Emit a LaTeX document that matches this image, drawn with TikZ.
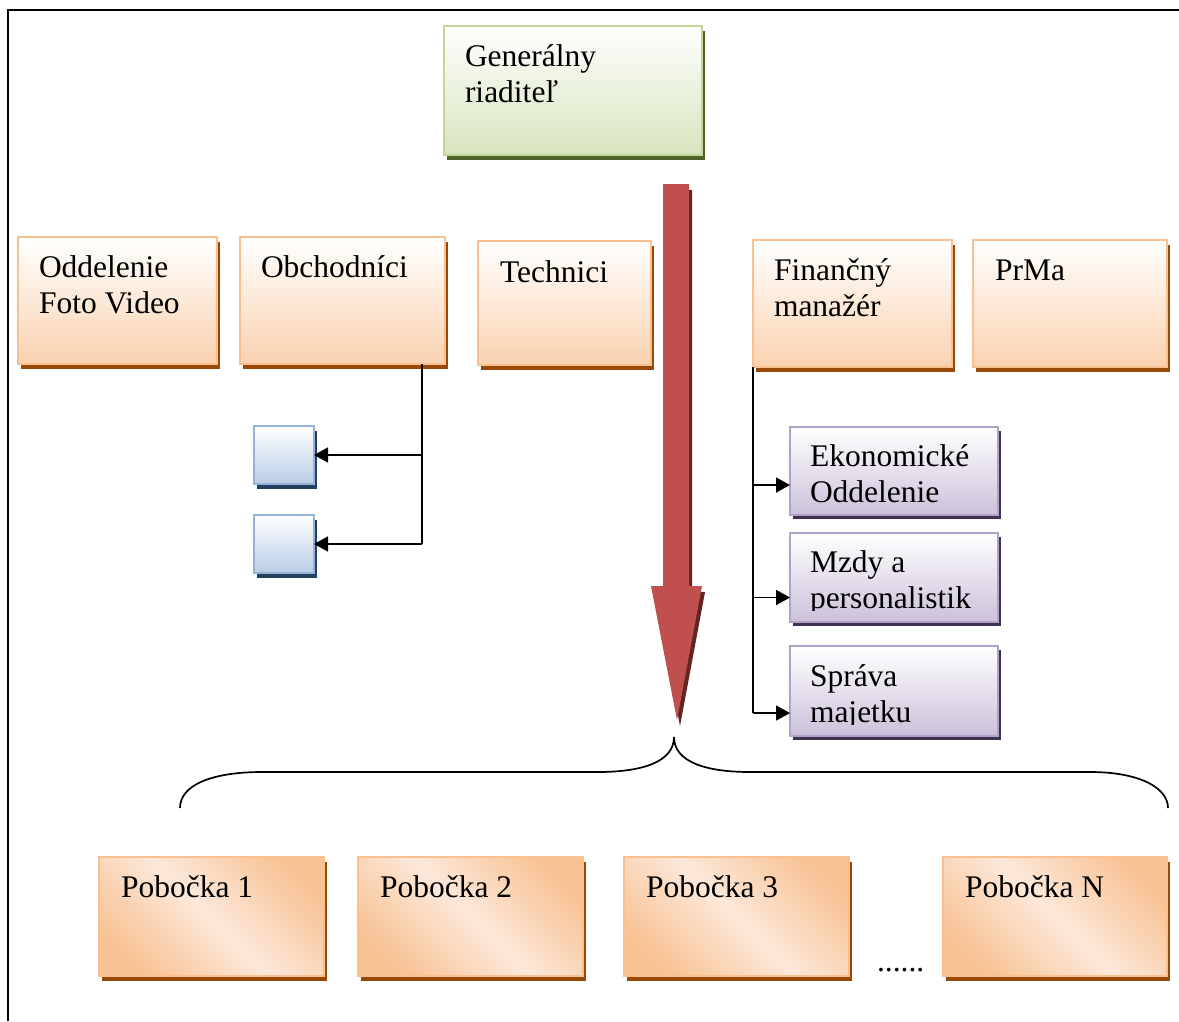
\documentclass[tikz,border=0pt]{standalone}
\usepackage{fontspec}
\setmainfont{Liberation Serif}
\usetikzlibrary{shadows,arrows.meta,calc}

% palette
\definecolor{orBorder}{HTML}{FAC090}
\definecolor{orFill}{HTML}{FAD2B0}
\definecolor{orShadow}{HTML}{984807}
\definecolor{grBorder}{HTML}{C3D69B}
\definecolor{grFill}{HTML}{D7E4BD}
\definecolor{grShadow}{HTML}{4F6228}
\definecolor{blBorder}{HTML}{95B3D7}
\definecolor{blFill}{HTML}{B9CDE5}
\definecolor{blShadow}{HTML}{244061}
\definecolor{puBorder}{HTML}{B3A2C7}
\definecolor{puFill}{HTML}{CCC1DA}
\definecolor{puShadow}{HTML}{3F3151}
\definecolor{arrowRed}{HTML}{C0504D}
\definecolor{arrowShadow}{HTML}{632523}
\definecolor{pobD}{HTML}{F8C294}
\definecolor{pobL}{HTML}{FCE8DA}

% diagonal two-tone fill of the branch boxes
\pgfdeclarehorizontalshading{pobshade}{100bp}{color(0bp)=(pobD); color(24bp)=(pobD); color(50bp)=(pobL); color(76bp)=(pobD); color(100bp)=(pobD)}

\tikzset{
  box/.style={draw, line width=2pt, outer sep=0pt, inner sep=0pt, anchor=north west},
  orbox/.style={box, draw=orBorder, top color=white, bottom color=orFill,
    drop shadow={shadow xshift=3pt, shadow yshift=-5pt, fill=orShadow, opacity=1}},
  grbox/.style={box, draw=grBorder, top color=white, bottom color=grFill,
    drop shadow={shadow xshift=3pt, shadow yshift=-5pt, fill=grShadow, opacity=1}},
  blbox/.style={box, draw=blBorder, top color=white, bottom color=blFill,
    drop shadow={shadow xshift=3pt, shadow yshift=-5pt, fill=blShadow, opacity=1}},
  pubox/.style={box, draw=puBorder, top color=white, bottom color=puFill,
    drop shadow={shadow xshift=3pt, shadow yshift=-4pt, fill=puShadow, opacity=1}},
  pobbox/.style={box, draw=orBorder, shading=pobshade, shading angle=45,
    drop shadow={shadow xshift=3pt, shadow yshift=-5pt, fill=orShadow, opacity=1}},
  lbl/.style={anchor=base west, inner sep=0pt, outer sep=0pt,
    font=\fontsize{31.5}{36.5}\selectfont},
  conn/.style={line width=1.8pt, black},
  arr/.style={conn, -{Triangle[length=14pt,width=15pt]}},
  frameline/.style={line width=2.5pt, black},
  bracket/.style={line width=1.7pt, black}
}

\begin{document}
\begin{tikzpicture}[x=1pt,y=-1pt]
\useasboundingbox (0,0) rectangle (1179,1021);
\fill[white] (0,0) rectangle (1179,1021);

% page frame
\draw[frameline] (8,1021) -- (8,10) -- (1179,10);

% general director
\node[grbox, minimum width=258pt, minimum height=129pt] (gen) at (444,26) {};
\node[lbl] (genT) at ([shift={(21,40)}]gen.north west) {\parbox[t]{8cm}{Generálny\\riaditeľ}};

% departments
\node[orbox, minimum width=199pt, minimum height=127pt] (odd) at (18,237) {};
\node[lbl] (oddT) at ([shift={(21,40)}]odd.north west) {\parbox[t]{8cm}{Oddelenie\\Foto Video}};
\node[orbox, minimum width=205pt, minimum height=127pt] (obch) at (240,237) {};
\node[lbl] (obchT) at ([shift={(21,40)}]obch.north west) {\parbox[t]{8cm}{Obchodníci}};
\node[orbox, minimum width=173pt, minimum height=124pt] (tech) at (478,241) {};
\node[lbl] (techT) at ([shift={(22,41)}]tech.north west) {\parbox[t]{8cm}{Technici}};
\node[orbox, minimum width=199pt, minimum height=127pt] (fin) at (753,240) {};
\node[lbl] (finT) at ([shift={(21,40)}]fin.north west) {\parbox[t]{8cm}{Finančný\\manažér}};
\node[orbox, minimum width=194pt, minimum height=127pt] (prma) at (973,240) {};
\node[lbl] (prmaT) at ([shift={(22,40)}]prma.north west) {\parbox[t]{8cm}{PrMa}};

% sales subordinates
\node[blbox, minimum width=60pt, minimum height=58pt] (bl1) at (254,426) {};
\node[blbox, minimum width=60pt, minimum height=58pt] (bl2) at (254,515) {};
\coordinate (jA) at (422,544);
\draw[conn] (obch.south -| jA) -- (jA);
\draw[arr] (bl1.east -| jA) -- (bl1.east);
\draw[arr] (jA) -- (bl2.east);

% finance subordinates
\node[pubox, minimum width=208pt, minimum height=88pt] (ek) at (790,427) {};
\node[pubox, minimum width=208pt, minimum height=89pt] (mzdy) at (790,533) {};
\node[pubox, minimum width=208pt, minimum height=90pt] (sprava) at (790,646) {};
\begin{scope}
  \clip (ek.north west) rectangle ([shift={(0,-12)}]ek.south east);
  \node[lbl] (ekT) at ([shift={(20,39)}]ek.north west) {\parbox[t]{8cm}{Ekonomické\\Oddelenie}};
\end{scope}
\begin{scope}
  \clip (mzdy.north west) rectangle ([shift={(0,-12)}]mzdy.south east);
  \node[lbl] (mzdyT) at ([shift={(20,39)}]mzdy.north west) {\parbox[t]{8cm}{Mzdy a\\personalistik}};
\end{scope}
\begin{scope}
  \clip (sprava.north west) rectangle ([shift={(0,-12)}]sprava.south east);
  \node[lbl] (spravaT) at ([shift={(20,40)}]sprava.north west) {\parbox[t]{8cm}{Správa\\majetku}};
\end{scope}
\coordinate (jB) at (753,713);
\coordinate (e1) at ([shift={(0,14)}]ek.west);
\coordinate (e2) at ([shift={(0,20)}]mzdy.west);
\draw[conn] (fin.south west) -- (jB);
\draw[arr] (e1 -| jB) -- (e1);
\draw[arr] (e2 -| jB) -- (e2);
\draw[arr] (jB) -- (jB -| sprava.west);

% big downward arrow
\fill[arrowShadow, shift={(3,6)}] (663,184) -- (689,184) -- (689,586) -- (702,586)
  -- (677,720) -- (651,586) -- (663,586) -- cycle;
\fill[arrowRed] (663,184) -- (689,184) -- (689,586) -- (702,586)
  -- (677,720) -- (651,586) -- (663,586) -- cycle;

% curly bracket over the branches
\draw[bracket] (180,808) .. controls (180,785) and (212,772) .. (262,772)
  -- (598,772) .. controls (642,772) and (674,762) .. (674,737)
  .. controls (674,762) and (706,772) .. (750,772)
  -- (1090,772) .. controls (1140,772) and (1168,788) .. (1168,808);

% branches
\node[pobbox, minimum width=225pt, minimum height=119pt] (p1) at (99,857) {};
\node[lbl] (p1T) at ([shift={(22,40)}]p1.north west) {Pobočka 1};
\node[pobbox, minimum width=225pt, minimum height=119pt] (p2) at (358,857) {};
\node[lbl] (p2T) at ([shift={(22,40)}]p2.north west) {Pobočka 2};
\node[pobbox, minimum width=225pt, minimum height=119pt] (p3) at (624,857) {};
\node[lbl] (p3T) at ([shift={(22,40)}]p3.north west) {Pobočka 3};
\node[pobbox, minimum width=224pt, minimum height=119pt] (pN) at (943,857) {};
\node[lbl] (pNT) at ([shift={(22,40)}]pN.north west) {Pobočka N};
\node[lbl] (dots) at (877,971) {......};
\end{tikzpicture}
\end{document}
